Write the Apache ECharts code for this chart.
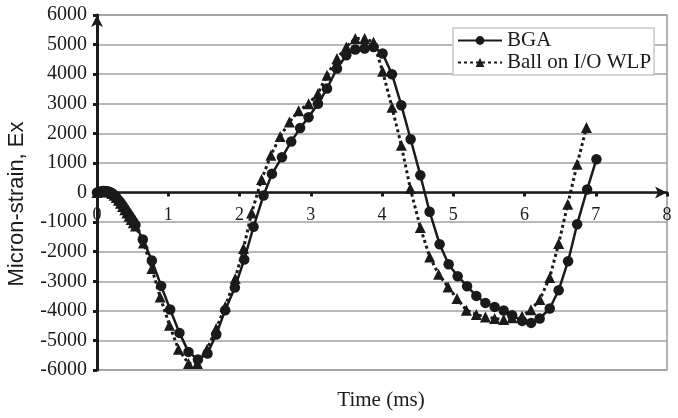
<!DOCTYPE html>
<html><head><meta charset="utf-8">
<script src="https://cdn.jsdelivr.net/npm/echarts@6/dist/echarts.min.js"></script>
<style>html,body{margin:0;padding:0;background:#fff}#c{width:678px;height:418px}</style>
</head><body><div id="c"></div>
<script>
// Time (ms) and micro-strain values
const timeBGA = [0,0.03,0.06,0.09,0.12,0.15,0.18,0.21,0.24,0.27,0.30,0.33,0.36,0.39,0.42,0.45,0.48,0.51,0.54,
  0.643,0.770,0.900,1.027,1.157,1.284,1.416,1.551,1.673,1.799,1.935,2.066,2.197,2.337,2.455,2.596,2.726,2.851,2.969,
  3.101,3.228,3.368,3.499,3.625,3.756,3.882,4.008,4.140,4.271,4.402,4.538,4.668,4.809,4.935,5.062,5.194,5.324,5.451,
  5.581,5.708,5.826,5.966,6.093,6.213,6.354,6.480,6.612,6.739,6.879,7.010];
const strainBGA = [0,20,40,50,50,40,20,-20,-80,-160,-250,-340,-440,-550,-660,-770,-880,-990,-1100,
  -1589,-2298,-3157,-3955,-4746,-5388,-5645,-5442,-4800,-3978,-3211,-2265,-1160,-100,630,1190,1720,2180,2545,
  3000,3515,4191,4641,4833,4867,4921,4698,3999,2951,1800,585,-650,-1747,-2423,-2829,-3167,-3495,-3732,
  -3867,-3990,-4147,-4340,-4408,-4259,-3921,-3302,-2322,-1071,101,1126];
const timeWLP = [0,0.03,0.06,0.09,0.12,0.15,0.18,0.21,0.24,0.27,0.30,0.33,0.36,0.39,0.42,0.45,0.48,0.51,0.54,
  0.652,0.770,0.886,1.017,1.143,1.284,1.410,1.545,1.673,1.800,1.940,2.056,2.170,2.310,2.440,2.570,2.700,2.830,2.970,
  3.100,3.228,3.368,3.499,3.625,3.756,3.882,4.008,4.140,4.271,4.397,4.538,4.669,4.795,4.927,5.053,5.184,5.324,5.451,
  5.581,5.708,5.826,5.966,6.090,6.216,6.354,6.480,6.607,6.739,6.869];
const strainWLP = [0,20,40,50,45,35,10,-30,-90,-170,-260,-360,-470,-580,-690,-800,-910,-1020,-1130,
  -1704,-2569,-3529,-4485,-5297,-5780,-5780,-5300,-4600,-3850,-2907,-1893,-690,439,1261,1890,2380,2760,3000,
  3340,3965,4529,4921,5205,5205,5080,4100,2883,1600,135,-1183,-2177,-2761,-3191,-3583,-3978,-4124,-4205,
  -4259,-4293,-4230,-4180,-3961,-3617,-2873,-1724,-395,957,2197];
const xTickValues = [0,1,2,3,4,5,6,7,8];
const yTickValues = [-6000,-5000,-4000,-3000,-2000,-1000,0,1000,2000,3000,4000,5000,6000];
const seriesNames = ['BGA','Ball on I/O WLP'];
const xTitle = 'Time (ms)';
const yTitle = 'Micron-strain, Ex';

const zip = (a,b) => a.map((t,i)=>[t,b[i]]);
const ink = '#1a1a1a';
const gridTop = 15, gridBottom = 48, H = 418;
const plotH = H - gridTop - gridBottom;
const yMin = yTickValues[0], yMax = yTickValues[yTickValues.length-1];
const zeroOffset = -plotH * (0 - yMin) / (yMax - yMin); // move x axis up to y = 0
const chart = echarts.init(document.getElementById('c'), null, {renderer:'canvas'});
chart.setOption({
  animation:false,
  backgroundColor:'#fff',
  grid:{left:97,right:11,top:gridTop,bottom:gridBottom,show:true,borderColor:'#9a9a9a',borderWidth:1.5,backgroundColor:'transparent'},
  xAxis:{type:'value',min:xTickValues[0],max:xTickValues[xTickValues.length-1],interval:1,position:'bottom',offset:zeroOffset,
    axisLine:{show:true,onZero:false,lineStyle:{color:ink,width:2.5},symbol:['none','arrow'],symbolSize:[9,12]},
    axisTick:{show:true,length:4,lineStyle:{color:ink,width:3}},
    axisLabel:{fontFamily:'Liberation Serif',fontSize:18,color:ink,margin:14,showMinLabel:true,showMaxLabel:true},
    splitLine:{show:false}},
  yAxis:{type:'value',min:yMin,max:yMax,interval:1000,
    axisLine:{show:true,onZero:false,lineStyle:{color:ink,width:3},symbol:['none','arrow'],symbolSize:[9,12]},
    axisTick:{show:true,length:4,lineStyle:{color:ink,width:3}},
    axisLabel:{fontFamily:'Liberation Serif',fontSize:20,color:ink,margin:10,formatter:v=>String(v)},
    splitLine:{show:true,lineStyle:{color:'#a0a0a0',width:1.5}}},
  legend:{left:453,top:28,orient:'vertical',itemWidth:44,itemHeight:11,itemGap:1,
    backgroundColor:'#fff',borderColor:'#c8c8c8',borderWidth:1.5,padding:[2,3,2,4],
    textStyle:{fontFamily:'Liberation Serif',fontSize:21,color:ink},
    data:seriesNames},
  series:[
    {name:seriesNames[0],type:'line',data:zip(timeBGA,strainBGA),symbol:'circle',symbolSize:10.5,showAllSymbol:true,
     itemStyle:{color:ink},lineStyle:{color:ink,width:2.5},z:3},
    {name:seriesNames[1],type:'line',data:zip(timeWLP,strainWLP),symbol:'triangle',symbolSize:11,showAllSymbol:true,
     itemStyle:{color:ink},lineStyle:{color:ink,width:3,type:[3,3]},z:2}
  ],
  graphic:[
    {type:'text',x:17,y:204,rotation:Math.PI/2,style:{text:yTitle,font:'22px "Liberation Sans"',fill:ink,align:'center',verticalAlign:'middle'}},
    {type:'text',x:381,y:400,style:{text:xTitle,font:'21px "Liberation Serif"',fill:ink,align:'center',verticalAlign:'middle'}}
  ]
});
</script></body></html>
